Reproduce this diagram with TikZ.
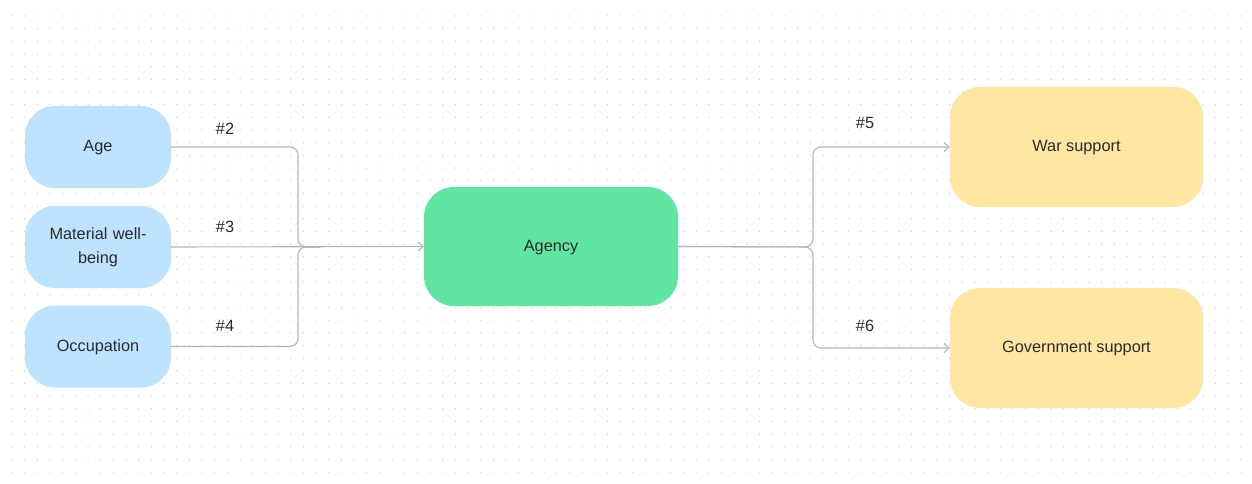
\documentclass[tikz,border=0pt]{standalone}
\usepackage{fontspec}
\setmainfont{Liberation Sans}
\usetikzlibrary{arrows.meta}
\definecolor{bluebox}{HTML}{BDE3FE}
\definecolor{greenbox}{HTML}{60E6A0}
\definecolor{yellowbox}{HTML}{FFE6A3}
\definecolor{linegray}{HTML}{B5B5B5}
\definecolor{dotgray}{HTML}{D2D2D2}
\definecolor{txt}{HTML}{2B2B2B}
\tikzset{
  box/.style={rounded corners=30pt, inner sep=0pt, align=center, text=txt, font=\fontsize{16.3}{24}\selectfont},
  inbox/.style={box, fill=bluebox, minimum width=146pt, minimum height=82pt, text width=130pt},
  midbox/.style={box, fill=greenbox, minimum width=254pt, minimum height=119pt},
  outbox/.style={box, fill=yellowbox, minimum width=253pt, minimum height=120pt},
  conn/.style={draw=linegray, line width=1.1pt, rounded corners=8pt},
  arr/.style={conn, -{Straight Barb[length=5pt,width=9pt,line width=1.1pt]}},
  lbl/.style={text=txt, font=\fontsize{16.3}{20}\selectfont, inner sep=0pt}
}
\begin{document}
\begin{tikzpicture}[x=1pt,y=-1pt]
\useasboundingbox (0,0) rectangle (1252,484);
\fill[white] (0,0) rectangle (1252,484);
\foreach \i in {0,...,97}{
  \foreach \j in {0,...,36}{
    \fill[dotgray] ({12+12.67*\i},{16+12.67*\j}) circle (0.75pt);
  }
}
\node[inbox] (age) at (98,147) {\strut Age};
\node[inbox] (mat) at (98,247) {Material well-\\being};
\node[inbox] (occ) at (98,346.5) {\strut Occupation};
\node[midbox] (agency) at (551,246.5) {\strut Agency};
\node[outbox] (war) at (1076.5,147) {\strut War support};
\node[outbox] (gov) at (1076.5,348) {\strut Government support};

\coordinate (jl) at (298,247);
\coordinate (jr) at (813,247);

\draw[conn] (age.east) -- (298,147) -- (jl) -- (320,247);
\draw[conn] (occ.east) -- (298,346.5) -- (jl) -- (320,247);
\draw[arr] (mat.east) -- (agency.west);
\draw[arr] (agency.east) -- (jr) -- (813,147) -- (war.west);
\draw[arr] (agency.east) -- (jr) -- (813,348) -- (gov.west);

\node[lbl] (l2) at (225,129) {\#2};
\node[lbl] (l3) at (225,227) {\#3};
\node[lbl] (l4) at (225,326) {\#4};
\node[lbl] (l5) at (865,123) {\#5};
\node[lbl] (l6) at (865,326) {\#6};
\end{tikzpicture}
\end{document}
